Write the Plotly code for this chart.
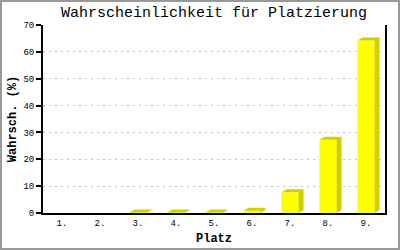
import plotly.graph_objects as go

places = ["1.", "2.", "3.", "4.", "5.", "6.", "7.", "8.", "9."]
probs = [0.0, 0.0, 0.2, 0.2, 0.2, 0.8, 7.7, 27.3, 64.2]
y_ticks = [0, 10, 20, 30, 40, 50, 60, 70]

W, H = 400, 250
ML, MR, MT, MB = 43, 15, 25, 37
pw, ph = W - ML - MR, H - MT - MB

x_pos = list(range(1, len(places) + 1))
bar_w = 0.45
dx = 5 / (pw / 9)          # depth offset in category units
dy = 3 / (ph / 70)         # depth offset in value units

FRONT = "#ffff00"
SIDE = "#d0d000"

fig = go.Figure()

# 3D extrusion (top + side) drawn behind the front faces
for xi, v in zip(x_pos, probs):
    if v <= 0:
        continue
    x0, x1 = xi - bar_w / 2, xi + bar_w / 2
    xs = [x0, x0 + dx, x1 + dx, x1 + dx, x1, x1, x0]
    ys = [v, v + dy, v + dy, dy, 0, v, v]
    fig.add_trace(go.Scatter(x=xs, y=ys, fill="toself", fillcolor=SIDE,
                             mode="lines", line=dict(width=0, color=SIDE),
                             hoverinfo="skip", showlegend=False))

fig.add_trace(go.Bar(x=x_pos, y=probs, width=bar_w, marker=dict(color=FRONT, line=dict(width=0)),
                     showlegend=False))

mono = "Liberation Mono"
fig.update_layout(
    width=W, height=H,
    margin=dict(l=ML, r=MR, t=MT, b=MB, autoexpand=False),
    paper_bgcolor="white", plot_bgcolor="white",
    title=dict(text="Wahrscheinlichkeit für Platzierung", x=0.5, xref="paper",
               y=1 - 12 / H, yanchor="middle",
               font=dict(family=mono, size=15, color="black")),
    xaxis=dict(range=[0.5, 9.5], tickvals=x_pos, ticktext=places, automargin=False,
               showline=True, linecolor="black", linewidth=2, ticks="",
               showgrid=False, zeroline=False,
               tickfont=dict(family=mono, size=9, color="black"),
               title=dict(text="<b>Platz</b>", font=dict(family=mono, size=12, color="black"), standoff=6)),
    yaxis=dict(range=[0, 70], tickvals=y_ticks, showline=True, mirror=True, automargin=False,
               linecolor="black", linewidth=2, ticks="outside", ticklen=5,
               tickcolor="black", tickwidth=2,
               showgrid=True, gridcolor="#c0c0c0", griddash="2px,4px", gridwidth=1,
               zeroline=False,
               tickfont=dict(family=mono, size=9, color="black"),
               title=dict(text="<b>Wahrsch. (%)</b>", font=dict(family=mono, size=12, color="black"), standoff=4)),
    shapes=[dict(type="rect", xref="paper", yref="paper",
                 x0=(1 - ML) / pw, x1=(W - 1 - ML) / pw,
                 y0=-(MB - 1) / ph, y1=1 + (MT - 1) / ph,
                 line=dict(color="#999999", width=2), layer="below")],
)

fig.write_html("out.html")
